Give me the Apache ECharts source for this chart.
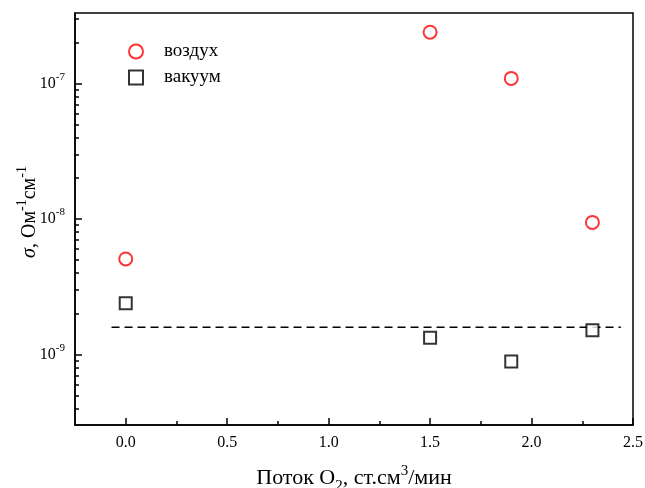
<!DOCTYPE html>
<html><head><meta charset="utf-8">
<script src="https://cdn.jsdelivr.net/npm/echarts@6/dist/echarts.min.js"></script>
<style>html,body{margin:0;padding:0;background:#fff}#c{width:645px;height:488px}</style>
</head><body><div id="c"></div>
<script>
// Data
const flowO2 = [0.0, 1.5, 1.9, 2.3];
const sigmaAir = [5.07e-9, 2.39e-7, 1.09e-7, 9.44e-9];
const sigmaVac = [2.39e-9, 1.33e-9, 8.87e-10, 1.51e-9];
const refLineX = [-0.07, 2.44];
const refLineSigma = 1.59e-9;
const xTicks = [0.0, 0.5, 1.0, 1.5, 2.0, 2.5];
const xMinorTicks = [0.25, 0.75, 1.25, 1.75, 2.25];
const yDecades = [-9, -8, -7];
const seriesNames = ['воздух', 'вакуум'];

const yMinor = [];
[-10, -9, -8, -7].forEach(d => { for (let k = 2; k <= 9; k++) yMinor.push(d + Math.log10(k)); });

const FONT = 'Liberation Serif';
const lg = v => Math.log10(v);
const chart = echarts.init(document.getElementById('c'));
const yMin = -9.52, yMax = -6.48;
chart.setOption({
  animation: false,
  backgroundColor: '#fff',
  grid: { left: 75, right: 12, top: 13, bottom: 63, show: true, borderColor: '#000', borderWidth: 1.5, outerBoundsMode: 'none', containLabel: false },
  legend: {
    orient: 'vertical', left: 128, top: 42, padding: 0, itemWidth: 14, itemHeight: 14, itemGap: 7,
    data: seriesNames,
    textStyle: { fontFamily: FONT, fontSize: 19, color: '#000', padding: [0, 0, 0, 16] }
  },
  xAxis: [{
    type: 'value', min: -0.25, max: 2.5,
    axisLine: { onZero: false, lineStyle: { color: '#000', width: 1.5 } },
    axisTick: { inside: true, length: 7, customValues: xTicks, lineStyle: { color: '#000', width: 1.5 } },
    axisLabel: { customValues: xTicks, formatter: v => v.toFixed(1), fontFamily: FONT, fontSize: 16, color: '#000', margin: 10 },
    splitLine: { show: false },
    name: '{t|Поток O}{sub|2}{t|, ст.см}{sup|3}{t|/мин}',
    nameLocation: 'middle', nameGap: 42, nameMoveOverlap: false,
    nameTextStyle: {
      rich: {
        t: { fontFamily: FONT, fontSize: 22, color: '#000' },
        sub: { fontFamily: FONT, fontSize: 15, color: '#000', verticalAlign: 'bottom', padding: [0, 0, -5, 0] },
        sup: { fontFamily: FONT, fontSize: 15, color: '#000', verticalAlign: 'top', padding: [-3, 0, 0, 0] }
      }
    }
  }, {
    type: 'value', min: -0.25, max: 2.5, position: 'bottom',
    axisLine: { show: false, onZero: false },
    axisTick: { inside: true, length: 4, customValues: xMinorTicks, lineStyle: { color: '#000', width: 1.5 } },
    axisLabel: { show: false }, splitLine: { show: false }
  }],
  yAxis: [{
    type: 'value', min: yMin, max: yMax,
    axisLine: { show: true, onZero: false, lineStyle: { color: '#000', width: 1.5 } },
    axisTick: { show: true, inside: true, length: 7, customValues: yDecades, lineStyle: { color: '#000', width: 1.5 } },
    axisLabel: {
      customValues: yDecades, margin: 10,
      formatter: v => '{b|10}{sup|' + Math.round(v) + '}',
      rich: {
        b: { fontFamily: FONT, fontSize: 16, color: '#000' },
        sup: { fontFamily: FONT, fontSize: 11, color: '#000', verticalAlign: 'top', padding: [-4, 0, 0, 0] }
      }
    },
    splitLine: { show: false },
    name: '{i|σ}{t|, Ом}{sup|-1}{t|см}{sup|-1}',
    nameLocation: 'middle', nameGap: 35, nameRotate: 90, nameMoveOverlap: false,
    nameTextStyle: {
      padding: [0, 0, 0, 14],
      rich: {
        i: { fontFamily: FONT, fontSize: 20, fontStyle: 'italic', color: '#000' },
        t: { fontFamily: FONT, fontSize: 20, color: '#000' },
        sup: { fontFamily: FONT, fontSize: 14, color: '#000', verticalAlign: 'top', padding: [-5, 0, 0, 0] }
      }
    }
  }, {
    type: 'value', min: yMin, max: yMax, position: 'left',
    axisLine: { show: false, onZero: false },
    axisTick: { show: true, inside: true, length: 4, customValues: yMinor.filter(v => v > yMin && v < yMax), lineStyle: { color: '#000', width: 1.5 } },
    axisLabel: { show: false }, splitLine: { show: false }
  }],
  series: [{
    name: seriesNames[0], type: 'scatter', symbol: 'circle', symbolSize: 13,
    itemStyle: { color: '#fff', borderColor: '#ff0000', borderWidth: 2 },
    data: flowO2.map((x, i) => [x, lg(sigmaAir[i])])
  }, {
    name: seriesNames[1], type: 'scatter', symbol: 'rect', symbolSize: 12,
    itemStyle: { color: '#fff', borderColor: '#000', borderWidth: 2 },
    data: flowO2.map((x, i) => [x, lg(sigmaVac[i])])
  }, {
    type: 'line', symbol: 'none', silent: true,
    lineStyle: { color: '#000', width: 1.5, type: [8, 5] },
    data: refLineX.map(x => [x, lg(refLineSigma)]), z: 1
  }]
});
</script></body></html>
